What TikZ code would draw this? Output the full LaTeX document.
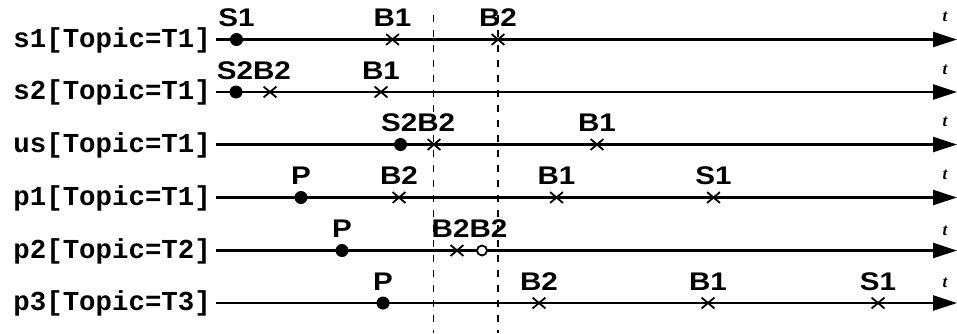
\documentclass[tikz,border=0pt]{standalone}
\usepackage{fontspec}
\setmainfont{Liberation Sans}
\newfontfamily\evfont[FakeStretch=1.16]{Liberation Sans Bold}
\newfontfamily\rowfont{Liberation Mono}
\newfontfamily\tfont{Liberation Serif}
\usepackage{tikz}
\usetikzlibrary{arrows.meta,positioning,shapes.misc,calc}

\begin{document}
\begin{tikzpicture}[
  x=1pt, y=1pt, node distance=13pt,
  row/.style={anchor=east, inner xsep=5pt, inner ysep=0pt, text height=19pt, text depth=4pt,
    font=\rowfont\bfseries\fontsize{27.4}{30}\selectfont},
  axis/.style={line width=2.6pt, -{Triangle[length=24pt,width=15pt]}},
  tlbl/.style={anchor=base, inner sep=0pt, font=\tfont\bfseries\itshape\fontsize{17}{18}\selectfont},
  lbl/.style={inner sep=0pt, outer sep=0pt, text depth=0pt, font=\evfont\fontsize{25.5}{27}\selectfont},
  dot/.style={circle, fill, inner sep=0pt, minimum size=13pt},
  hit/.style={cross out, draw, line width=1.8pt, inner sep=0pt, minimum width=11pt, minimum height=9pt},
  ring/.style={circle, draw, fill=white, line width=1.8pt, inner sep=0pt, minimum size=10pt},
  guide/.style={dashed, line width=1.1pt, dash pattern=on 7pt off 8pt}
]
\useasboundingbox (0,0) rectangle (957,-333);

% rows
\node[row] (s1) at (216,-39.5) {s1[Topic=T1]};
\node[row] (s2) at (216,-92) {s2[Topic=T1]};
\node[row] (us) at (216,-144.5) {us[Topic=T1]};
\node[row] (p1) at (216,-197.5) {p1[Topic=T1]};
\node[row] (p2) at (216,-250.5) {p2[Topic=T2]};
\node[row] (p3) at (216,-303) {p3[Topic=T3]};
\coordinate (s1end) at (957,-39.5);
\coordinate (s2end) at (957,-92);
\coordinate (usend) at (957,-144.5);
\coordinate (p1end) at (957,-197.5);
\coordinate (p2end) at (957,-250.5);
\coordinate (p3end) at (957,-303);

% guides
\coordinate (g1top) at (433.5,-15);
\coordinate (g1bot) at (433.5,-333);
\coordinate (g2top) at (498,-15);
\coordinate (g2bot) at (498,-333);
\draw[guide] (g1top) -- (g1bot);
\draw[guide] (g2top) -- (g2bot);

\draw[axis] (s1.east) -- (s1end);
\draw[axis] (s2.east) -- (s2end);
\draw[axis] (us.east) -- (usend);
\draw[axis] (p1.east) -- (p1end);
\draw[axis] (p2.east) -- (p2end);
\draw[axis] (p3.east) -- (p3end);

\node[tlbl] (t1) at (945,-21.5) {t};
\node[tlbl] (t2) at (945,-74) {t};
\node[tlbl] (t3) at (945,-126.5) {t};
\node[tlbl] (t4) at (945,-179.5) {t};
\node[tlbl] (t5) at (945,-235) {t};
\node[tlbl] (t6) at (945,-287) {t};

% events on s1
\node[dot] (s1s1) at (236.5,-39.5) {};
\node[hit] (s1b1) at (392.5,-39.5) {};
\node[hit] (s1b2) at (498,-39.5) {};
\node[lbl, above=of s1s1.center] (s1s1t) {S1};
\node[lbl, above=of s1b1.center] (s1b1t) {B1};
\node[lbl, above=of s1b2.center] (s1b2t) {B2};

% events on s2 (close pair: labels meet halfway)
\node[dot] (s2s2) at (236,-92) {};
\node[hit] (s2b2) at (270,-92) {};
\node[hit] (s2b1) at (381,-92) {};
\coordinate (s2mid) at ($(s2s2)!.5!(s2b2)$);
\node[lbl, above left=13pt and 0pt of s2mid] (s2s2t) {S2};
\node[lbl, above right=13pt and 0pt of s2mid] (s2b2t) {B2};
\node[lbl, above=of s2b1.center] (s2b1t) {B1};

% events on us
\node[dot] (uss2) at (400.5,-144.5) {};
\node[hit] (usb2) at (434,-144.5) {};
\node[hit] (usb1) at (597,-144.5) {};
\coordinate (usmid) at ($(uss2)!.5!(usb2)$);
\node[lbl, above left=13pt and 0pt of usmid] (uss2t) {S2};
\node[lbl, above right=13pt and 0pt of usmid] (usb2t) {B2};
\node[lbl, above=of usb1.center] (usb1t) {B1};

% events on p1
\node[dot] (p1p) at (301,-197.5) {};
\node[hit] (p1b2) at (399,-197.5) {};
\node[hit] (p1b1) at (556.5,-197.5) {};
\node[hit] (p1s1) at (713.5,-197.5) {};
\node[lbl, above=of p1p.center] (p1pt) {P};
\node[lbl, above=of p1b2.center] (p1b2t) {B2};
\node[lbl, above=of p1b1.center] (p1b1t) {B1};
\node[lbl, above=of p1s1.center] (p1s1t) {S1};

% events on p2
\node[dot] (p2p) at (342,-250.5) {};
\node[hit] (p2b2) at (457,-250.5) {};
\node[ring] (p2r2) at (482,-250.5) {};
\coordinate (p2mid) at ($(p2b2)!.5!(p2r2)$);
\node[lbl, above=of p2p.center] (p2pt) {P};
\node[lbl, above left=13pt and 0pt of p2mid] (p2b2t) {B2};
\node[lbl, above right=13pt and 0pt of p2mid] (p2r2t) {B2};

% events on p3
\node[dot] (p3p) at (383,-303) {};
\node[hit] (p3b2) at (539,-303) {};
\node[hit] (p3b1) at (708,-303) {};
\node[hit] (p3s1) at (878,-303) {};
\node[lbl, above=of p3p.center] (p3pt) {P};
\node[lbl, above=of p3b2.center] (p3b2t) {B2};
\node[lbl, above=of p3b1.center] (p3b1t) {B1};
\node[lbl, above=of p3s1.center] (p3s1t) {S1};
\end{tikzpicture}
\end{document}
